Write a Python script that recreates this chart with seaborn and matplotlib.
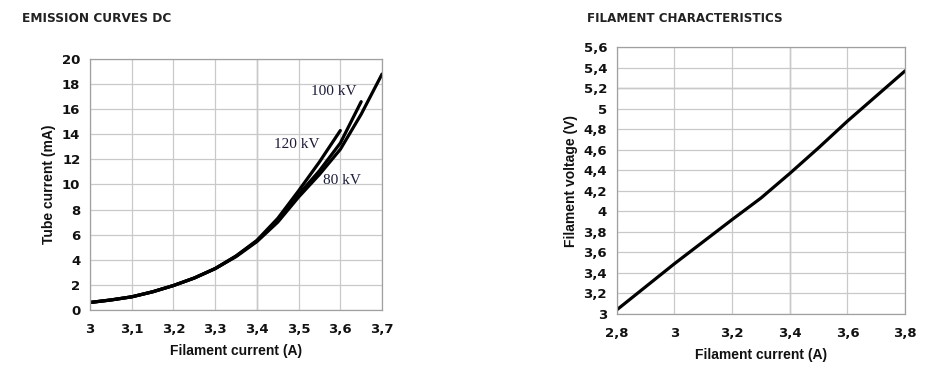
import matplotlib
matplotlib.use("Agg")
import matplotlib.pyplot as plt
import numpy as np
import pandas as pd
import seaborn as sns

# ---------------------------------------------------------------------------
# Data
# ---------------------------------------------------------------------------
# Emission curves DC: filament current (A) -> tube current (mA)
em_current_120 = [3.00, 3.05, 3.10, 3.15, 3.20, 3.25, 3.30, 3.35, 3.40, 3.45, 3.50, 3.55, 3.60]
em_tube_120    = [0.60, 0.80, 1.05, 1.45, 1.95, 2.55, 3.30, 4.30, 5.55, 7.30, 9.50, 11.8, 14.3]

em_current_100 = [3.00, 3.05, 3.10, 3.15, 3.20, 3.25, 3.30, 3.35, 3.40, 3.45, 3.50, 3.55, 3.60, 3.65]
em_tube_100    = [0.60, 0.80, 1.05, 1.45, 1.95, 2.55, 3.30, 4.30, 5.50, 7.10, 9.20, 11.1, 13.3, 16.6]

em_current_80 = [3.00, 3.05, 3.10, 3.15, 3.20, 3.25, 3.30, 3.35, 3.40, 3.45, 3.50, 3.55, 3.60, 3.65, 3.70]
em_tube_80    = [0.60, 0.80, 1.05, 1.45, 1.95, 2.55, 3.30, 4.25, 5.45, 7.00, 9.00, 10.8, 12.8, 15.6, 18.8]

curve_labels = ["120 kV", "100 kV", "80 kV"]

# Filament characteristics: filament current (A) -> filament voltage (V)
fil_current = [2.80, 3.00, 3.20, 3.30, 3.40, 3.50, 3.60, 3.80]
fil_voltage = [3.04, 3.49, 3.92, 4.13, 4.37, 4.62, 4.88, 5.37]

em_xticks = [3.0, 3.1, 3.2, 3.3, 3.4, 3.5, 3.6, 3.7]
em_yticks = list(range(0, 21, 2))
fil_xticks = [2.8, 3.0, 3.2, 3.4, 3.6, 3.8]
fil_yticks = [3.0, 3.2, 3.4, 3.6, 3.8, 4.0, 4.2, 4.4, 4.6, 4.8, 5.0, 5.2, 5.4, 5.6]

# ---------------------------------------------------------------------------
# Style
# ---------------------------------------------------------------------------
sns.set_style("white")
plt.rcParams["font.family"] = ["DejaVu Sans"]

GRID = "#c9c9c9"
GRID_DARK = "#8a8a8a"
TEXT = "#111111"
LABEL_FONT = dict(family="Liberation Sans", fontsize=10, fontweight="bold", color=TEXT)
TICK_FONT = dict(fontsize=9.5, fontweight="bold", color=TEXT)


def comma_fmt(v):
    s = f"{v:.1f}".rstrip("0").rstrip(".")
    return s.replace(".", ",")


def style_axis(ax, xticks, yticks, xlim, ylim):
    ax.tick_params(axis="both", length=4, width=0.8, color="#909090")
    ax.tick_params(axis="x", pad=5)
    ax.tick_params(axis="y", pad=3)
    ax.set_xticks(xticks, labels=[comma_fmt(v) for v in xticks], **TICK_FONT)
    ax.set_yticks(yticks, labels=[comma_fmt(v) for v in yticks], **TICK_FONT)
    ax.set_xlim(*xlim)
    ax.set_ylim(*ylim)
    ax.grid(True, color=GRID, lw=0.9)
    ax.set_axisbelow(True)
    for sp in ax.spines.values():
        sp.set_color("#a0a0a0")
        sp.set_linewidth(0.9)


fig = plt.figure(figsize=(9.35, 3.68), dpi=100)
ax1 = fig.add_axes([0.0963, 0.1576, 0.3123, 0.6821])
ax2 = fig.add_axes([0.6596, 0.1467, 0.3084, 0.7248])

# ---------------------------------------------------------------------------
# Left: emission curves
# ---------------------------------------------------------------------------
em_df = pd.concat([
    pd.DataFrame({"I": em_current_120, "mA": em_tube_120, "kV": curve_labels[0]}),
    pd.DataFrame({"I": em_current_100, "mA": em_tube_100, "kV": curve_labels[1]}),
    pd.DataFrame({"I": em_current_80, "mA": em_tube_80, "kV": curve_labels[2]}),
])
for name in curve_labels:
    sub = em_df[em_df["kV"] == name]
    sns.lineplot(data=sub, x="I", y="mA", ax=ax1, color="black", lw=2.3,
                 estimator=None, sort=True, legend=False)

style_axis(ax1, em_xticks, em_yticks, (3.0, 3.7), (0, 20))
ax1.axvline(3.4, color=GRID_DARK, lw=0.9, zorder=0.5)
ax1.set_xlabel("Filament current (A)", labelpad=6, **LABEL_FONT)
ax1.set_ylabel("Tube current (mA)", labelpad=4, **LABEL_FONT)

ann_font = dict(family="Liberation Serif", fontsize=11, color="#1c1c3a",
                ha="center", va="center")
ax1.text(3.584, 17.4, "100 kV", **ann_font)
ax1.text(3.495, 13.15, "120 kV", **ann_font)
ax1.text(3.605, 10.35, "80 kV", **ann_font)

fig.text(0.024, 0.95, "EMISSION CURVES DC", fontsize=8.7, fontweight="bold",
         color="#222222", va="center")

# ---------------------------------------------------------------------------
# Right: filament characteristics
# ---------------------------------------------------------------------------
fil_df = pd.DataFrame({"I": fil_current, "V": fil_voltage})
sns.lineplot(data=fil_df, x="I", y="V", ax=ax2, color="black", lw=2.3,
             estimator=None, legend=False)

style_axis(ax2, fil_xticks, fil_yticks, (2.8, 3.8), (3.0, 5.6))
ax2.axvline(3.4, color=GRID_DARK, lw=0.9, zorder=0.5)
ax2.axhline(5.2, color=GRID_DARK, lw=0.9, zorder=0.5)
ax2.set_xlabel("Filament current (A)", labelpad=6, **LABEL_FONT)
ax2.set_ylabel("Filament voltage (V)", labelpad=4, **LABEL_FONT)

fig.text(0.628, 0.95, "FILAMENT CHARACTERISTICS", fontsize=8.6, fontweight="bold",
         color="#222222", va="center")

fig.savefig("out.png", dpi=100, facecolor="white")
